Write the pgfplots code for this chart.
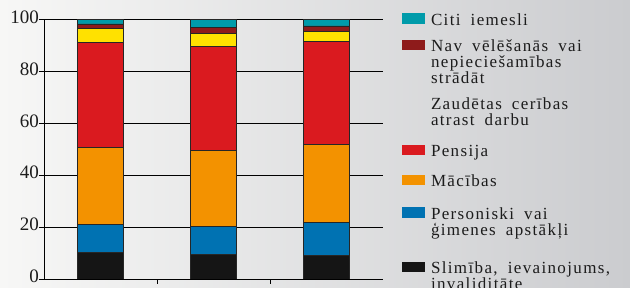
\documentclass[border=0pt]{standalone}
\usepackage{pgfplots}
\pgfplotsset{compat=1.18}
\usepackage{pgfplotstable}
\usepackage{fontspec}
\setmainfont{Liberation Serif}
\newfontfamily\legfont[LetterSpace=8,WordSpace=1.8]{Liberation Serif}

\definecolor{cteal}{RGB}{0,155,170}
\definecolor{cdarkred}{RGB}{142,27,27}
\definecolor{cyellow}{RGB}{255,225,0}
\definecolor{cred}{RGB}{218,26,31}
\definecolor{corange}{RGB}{243,146,0}
\definecolor{cblue}{RGB}{0,114,178}
\definecolor{cblack}{RGB}{21,21,21}
\definecolor{bgL}{RGB}{247,247,246}
\definecolor{bgR}{RGB}{203,204,207}
\definecolor{txt}{RGB}{28,28,28}

\pgfplotstableread{
x black blue orange red yellow darkred teal
1 10.3 10.8 29.5 40.7 5.4 1.6 1.7
2 9.6 10.6 29.5 40.0 5.0 2.2 3.1
3 9.1 12.6 30.3 39.7 3.7 2.1 2.5
}\data

% #1 = height reserved for the first line, #2 = first line, #3 = further lines (each starting with \\)
\newcommand\legtxt[3]{\raisebox{5pt}{\parbox[b]{200pt}{\lineskiplimit=-20pt\rule{0pt}{#1}\smash{#2}#3\rule[-5pt]{0pt}{5pt}}}}

\pgfplotsset{
  sw/.style={legend image code/.code={\fill[##1,draw=none] (0pt,#1) rectangle (23pt,#1+10.5pt);}},
}

\begin{document}
\begin{tikzpicture}
\fill[left color=bgL,right color=bgR] (0,0) rectangle (630pt,288pt);
\begin{axis}[
  at={(44pt,9pt)}, anchor=south west,
  scale only axis, width=339pt, height=259.5pt,
  ybar stacked, bar width=45.5pt,
  xmin=0.5, xmax=3.5, ymin=0, ymax=100,
  axis x line*=bottom, axis y line*=left,
  axis line style={black, line width=0.8pt},
  xtick={1.5,2.5}, xticklabels={},
  ytick={0,20,...,100},
  tick align=outside, major tick length=5pt,
  tick style={black, line width=0.8pt},
  ymajorgrids, grid style={black, line width=0.7pt},
  /pgf/number format/assume math mode=true,
  yticklabel style={font=\fontsize{19}{19}\selectfont, text=txt, inner sep=0pt, yshift=2.5pt},
  every axis plot/.append style={draw=black!85, line width=0.6pt},
  reverse legend,
  legend style={at={(1.0561,1.0250)}, anchor=north west, draw=none, fill=none,
    inner sep=0pt, outer sep=0pt, row sep=6.6pt, column sep=6pt,
    font=\legfont\fontsize{17}{16}\selectfont, text=txt,
    cells={anchor=base west}, nodes={inner sep=0pt}},
]
\addplot[fill=cblack, sw=22.5pt] table[x=x,y=black] {\data};
\addlegendentry{\legtxt{25.3pt}{Slimība, ievainojums,}{\\invaliditāte}}
\addplot[fill=cblue, sw=22.5pt] table[x=x,y=blue] {\data};
\addlegendentry{\legtxt{19.5pt}{Personiski vai}{\\ģimenes apstākļi}}
\addplot[fill=corange, sw=6.5pt] table[x=x,y=orange] {\data};
\addlegendentry{\legtxt{17.1pt}{Mācības}{}}
\addplot[fill=cred, sw=6.5pt] table[x=x,y=red] {\data};
\addlegendentry{\legtxt{18.4pt}{Pensija}{}}
\addplot[fill=cyellow, legend image code/.code={}] table[x=x,y=yellow] {\data};
\addlegendentry{\legtxt{12.4pt}{Zaudētas cerības}{\\atrast darbu}}
\addplot[fill=cdarkred, sw=38.5pt] table[x=x,y=darkred] {\data};
\addlegendentry{\legtxt{13.4pt}{Nav vēlēšanās vai}{\\nepieciešamības\\strādāt}}
\addplot[fill=cteal, sw=6.5pt] table[x=x,y=teal] {\data};
\addlegendentry{\legtxt{12pt}{Citi iemesli}{}}
\end{axis}
\pgfresetboundingbox
\useasboundingbox (0,0) rectangle (630pt,288pt);
\end{tikzpicture}
\end{document}
